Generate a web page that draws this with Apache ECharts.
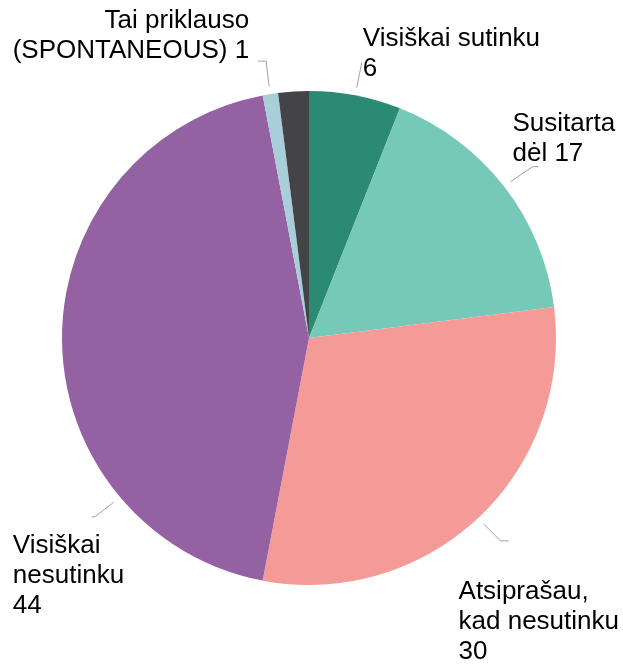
<!DOCTYPE html>
<html><head><meta charset="utf-8">
<script src="https://cdn.jsdelivr.net/npm/echarts@6/dist/echarts.min.js"></script>
<style>html,body{margin:0;padding:0;background:#fff}#c{width:623px;height:666px}</style>
</head><body><div id="c"></div>
<script>
const categories = ['Visiškai sutinku', 'Susitarta dėl', 'Atsiprašau, kad nesutinku', 'Visiškai nesutinku', 'Tai priklauso (SPONTANEOUS)', 'Nežino'];
const values = [6, 17, 30, 44, 1, 2];
const colors = ['#2A8A74', '#76C8B9', '#F59B97', '#9461A2', '#A8CED9', '#444448'];

const CX = 309, CY = 338, R = 247, GAP = 8;
// per-label guide geometry: anchor fraction within slice, line segments, label offset from line end
const guide = [
  { f: 0.5,  a: [5, -25],  b: [0, 0],  d: [1, -39],  align: 'left' },
  { f: 0.5,  a: [22, -15], b: [6, 0],  d: [-26, -58], align: 'left' },
  { f: 0.5,  a: [17, 17],  b: [8, 0],  d: [-50, 36],  align: 'left' },
  { f: 0.247, a: [-18, 14], b: [-4, 1], d: [-79, 14],  align: 'left' },
  { f: 0.5,  a: [-3, -25], b: [-8, 0], d: [-9, -55],  align: 'right' }
];

const total = values.reduce((s, v) => s + v, 0);
const starts = [];
let acc = 0;
values.forEach(v => { starts.push(acc); acc += v; });

function pt(theta, r) {
  return [CX + r * Math.sin(theta), CY - r * Math.cos(theta)];
}

function labelText(i) {
  const n = categories[i], v = values[i];
  switch (i) {
    case 0: return n + '\n' + v;
    case 1: return n.replace(' ', '\n') + ' ' + v;
    case 2: return n.replace(', ', ',\n') + '\n' + v;
    case 3: return n.replace(' ', '\n') + '\n' + v;
    case 4: return n.replace(' (', '\n(') + ' ' + v;
    default: return '';
  }
}

const data = values.map((v, i) => ({
  name: categories[i],
  value: v,
  itemStyle: { color: colors[i] },
  label: { show: i < 5 },
  labelLine: { show: i < 5 }
}));

const chart = echarts.init(document.getElementById('c'));
chart.setOption({
  animation: false,
  series: [{
    type: 'pie',
    center: [CX, CY],
    radius: R,
    startAngle: 90,
    clockwise: true,
    avoidLabelOverlap: false,
    minShowLabelAngle: 0,
    emphasis: { disabled: true },
    data: data,
    label: {
      position: 'outside',
      formatter: p => labelText(p.dataIndex),
      fontFamily: 'Liberation Sans, Arial, sans-serif',
      fontSize: 26,
      lineHeight: 30,
      color: '#000'
    },
    labelLine: {
      length: 10,
      length2: 5,
      lineStyle: { color: '#A0A0A0', width: 1 }
    },
    labelLayout: function (params) {
      const i = params.dataIndex;
      const g = guide[i];
      if (!g) return {};
      const theta = (starts[i] + g.f * values[i]) / total * Math.PI * 2;
      const p0 = pt(theta, R + GAP);
      const p1 = [p0[0] + g.a[0], p0[1] + g.a[1]];
      const p2 = [p1[0] + g.b[0], p1[1] + g.b[1]];
      return {
        x: p2[0] + g.d[0],
        y: p2[1] + g.d[1],
        align: g.align,
        verticalAlign: 'top',
        labelLinePoints: [p0, p1, p2]
      };
    }
  }]
});
</script></body></html>
